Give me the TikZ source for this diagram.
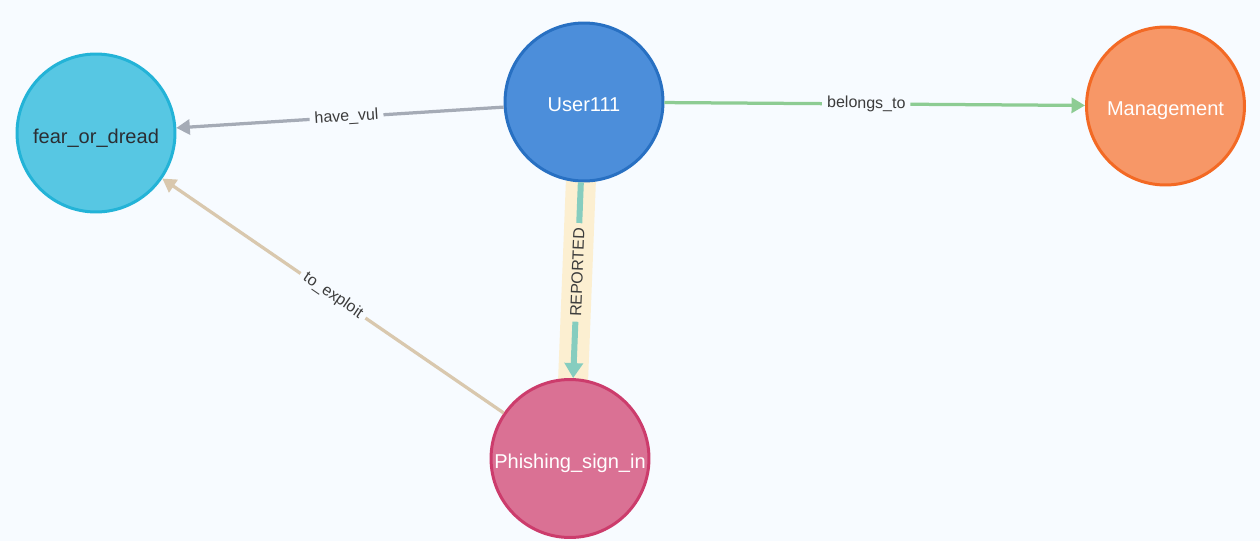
\documentclass[tikz,border=0pt]{standalone}
\usepackage{fontspec}
\setmainfont{Liberation Sans}
\usepackage{xcolor}
\usetikzlibrary{positioning}
\usetikzlibrary{automata}
\usetikzlibrary{arrows.meta}
\usetikzlibrary{backgrounds}
\definecolor{canvas}{HTML}{F7FBFF}
\definecolor{vulfill}{HTML}{57C7E3}
\definecolor{vuldraw}{HTML}{23B3D7}
\definecolor{userfill}{HTML}{4C8EDA}
\definecolor{userdraw}{HTML}{2870C2}
\definecolor{groupfill}{HTML}{F79767}
\definecolor{groupdraw}{HTML}{F36924}
\definecolor{signfill}{HTML}{DA7194}
\definecolor{signdraw}{HTML}{CC3C6C}
\definecolor{vulline}{HTML}{A5ABB6}
\definecolor{groupline}{HTML}{8DCC93}
\definecolor{reportline}{HTML}{86CDBF}
\definecolor{exploitline}{HTML}{D9C8AE}
\definecolor{halo}{HTML}{FCEFD1}
\definecolor{labeltext}{HTML}{3C3C3C}
\definecolor{darktext}{HTML}{2B2E33}
\tikzstyle{every state}=[minimum size=3.16cm, inner sep=0pt, line width=0.06cm, text=white, text height=0.4cm, text depth=0pt, font=\fontsize{11.4pt}{13pt}\selectfont]
\tikzstyle{vul}=[fill=vulfill, draw=vuldraw, text=darktext]
\tikzstyle{user}=[fill=userfill, draw=userdraw]
\tikzstyle{group}=[fill=groupfill, draw=groupdraw]
\tikzstyle{sign}=[fill=signfill, draw=signdraw]
\tikzstyle{rel}=[-{Triangle[length=0.27cm, width=0.3cm]}, line width=0.065cm]
\tikzstyle{rellabel}=[sloped, fill=canvas, inner xsep=0.1cm, inner ysep=0.02cm, text=labeltext, font=\fontsize{9.1pt}{11pt}\selectfont]

\begin{document}
\begin{tikzpicture}[x=0.02cm, y=-0.02cm]
    \useasboundingbox (0,0) rectangle (1260,541);

    \node[state, vul]   (fear)  at (96,133)    {fear\_or\_dread};
    \node[state, user]  (user)  at (584,102)   {User111};
    \node[state, group] (mgmt)  at (1165.5,106) {Management};
    \node[state, sign]  (phish) at (570,458.5) {Phishing\_sign\_in};

    \begin{scope}[on background layer]
      \fill[canvas] (0,0) rectangle (1260,541);
      \draw[halo, line width=0.6cm] (user.center) -- (phish.center);
    \end{scope}

    \draw[rel, draw=vulline] (user) to node[rellabel, pos=0.48] {have\_vul} (fear);
    \draw[rel, draw=groupline] (user) to node[rellabel, pos=0.48] {belongs\_to} (mgmt);
    \draw[rel, draw=reportline, line width=0.12cm, -{Triangle[length=0.3cm, width=0.36cm]}] (user) to node[rellabel, fill=halo, pos=0.46] {REPORTED} (phish);
    \draw[rel, draw=exploitline] (phish) to node[rellabel] {to\_exploit} (fear);
\end{tikzpicture}
\end{document}
